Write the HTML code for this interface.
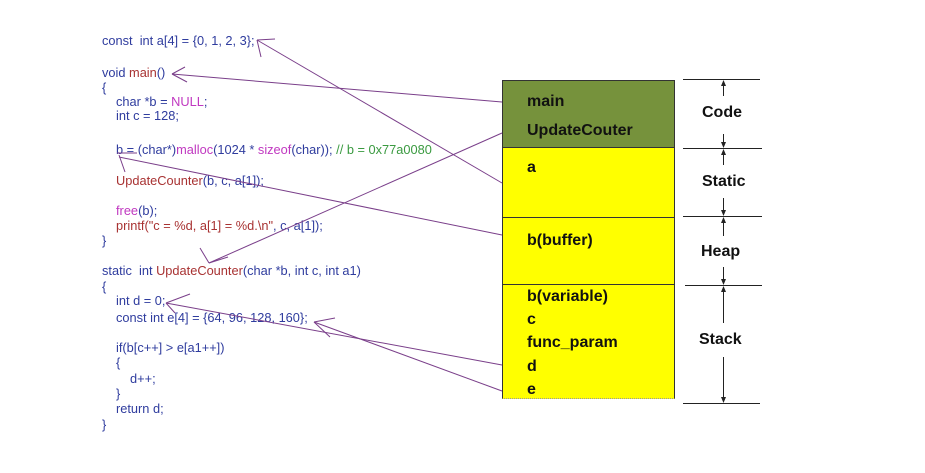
<!DOCTYPE html>
<html>
<head>
<meta charset="utf-8">
<style>
  html,body{margin:0;padding:0;background:#fff;}
  #c{position:relative;width:925px;height:473px;overflow:hidden;background:#fff;}
  .code{position:absolute;font-family:"Liberation Sans",Arial,sans-serif;font-size:12.8px;line-height:14px;white-space:pre;color:#2f3c9e;}
  .r{color:#a83232;}
  .m{color:#c038c0;}
  .g{color:#3a9a40;}
  .lbl{position:absolute;font-family:"Liberation Sans",Arial,sans-serif;font-weight:bold;font-size:16px;line-height:18px;color:#111;white-space:pre;}
  .box{position:absolute;left:502px;width:173px;box-sizing:border-box;border-left:1px solid #333;border-right:1px solid #333;}
</style>
</head>
<body>
<div id="c">
  <div class="box" style="top:80px;height:68px;background:#76923c;border-top:1px solid #333;border-bottom:1px solid #333;"></div>
  <div class="box" style="top:148px;height:70px;background:#ffff00;border-bottom:1px solid #333;"></div>
  <div class="box" style="top:218px;height:67px;background:#ffff00;border-bottom:1px solid #333;"></div>
  <div class="box" style="top:285px;height:114px;background:#ffff00;border-bottom:1px dotted #999;"></div>

  <div class="lbl" style="left:527px;top:93px;">main</div>
  <div class="lbl" style="left:527px;top:122px;">UpdateCouter</div>
  <div class="lbl" style="left:527px;top:159px;">a</div>
  <div class="lbl" style="left:527px;top:232px;">b(buffer)</div>
  <div class="lbl" style="left:527px;top:288px;">b(variable)</div>
  <div class="lbl" style="left:527px;top:311px;">c</div>
  <div class="lbl" style="left:527px;top:334px;">func_param</div>
  <div class="lbl" style="left:527px;top:358px;">d</div>
  <div class="lbl" style="left:527px;top:381px;">e</div>

  <div class="lbl" style="left:702px;top:104px;">Code</div>
  <div class="lbl" style="left:702px;top:173px;">Static</div>
  <div class="lbl" style="left:701px;top:243px;">Heap</div>
  <div class="lbl" style="left:699px;top:331px;">Stack</div>

  <div class="code" style="left:102px;top:34px;">const  int a[4] = {0, 1, 2, 3};</div>
  <div class="code" style="left:102px;top:66px;">void <span class="r">main</span>()</div>
  <div class="code" style="left:102px;top:81px;">{</div>
  <div class="code" style="left:116px;top:95px;">char *b = <span class="m">NULL</span>;</div>
  <div class="code" style="left:116px;top:109px;">int c = 128;</div>
  <div class="code" style="left:116px;top:143px;">b = (char*)<span class="m">malloc</span>(1024 * <span class="m">sizeof</span>(char)); <span class="g">// b = 0x77a0080</span></div>
  <div class="code" style="left:116px;top:174px;"><span class="r">UpdateCounter</span>(b, c, a[1]);</div>
  <div class="code" style="left:116px;top:204px;"><span class="m">free</span>(b);</div>
  <div class="code" style="left:116px;top:219px;"><span class="r">printf("c = %d, a[1] = %d.\n"</span>, c, a[1]);</div>
  <div class="code" style="left:102px;top:234px;">}</div>
  <div class="code" style="left:102px;top:264px;">static  int <span class="r">UpdateCounter</span>(char *b, int c, int a1)</div>
  <div class="code" style="left:102px;top:280px;">{</div>
  <div class="code" style="left:116px;top:294px;">int d = 0;</div>
  <div class="code" style="left:116px;top:311px;">const int e[4] = {64, 96, 128, 160};</div>
  <div class="code" style="left:116px;top:341px;">if(b[c++] &gt; e[a1++])</div>
  <div class="code" style="left:116px;top:356px;">{</div>
  <div class="code" style="left:130px;top:372px;">d++;</div>
  <div class="code" style="left:116px;top:387px;">}</div>
  <div class="code" style="left:116px;top:402px;">return d;</div>
  <div class="code" style="left:102px;top:418px;">}</div>

  <svg width="925" height="473" style="position:absolute;left:0;top:0;" xmlns="http://www.w3.org/2000/svg">
    <g stroke="#7a3f8a" stroke-width="1" fill="none">
      <line x1="502" y1="183" x2="257" y2="40"/>
      <line x1="257" y1="40" x2="275" y2="39"/>
      <line x1="257" y1="40" x2="261" y2="57"/>
      <line x1="502" y1="102" x2="172" y2="74"/>
      <line x1="172" y1="74" x2="185" y2="67"/>
      <line x1="172" y1="74" x2="187" y2="82"/>
      <line x1="502" y1="235" x2="119" y2="157"/>
      <line x1="117" y1="153" x2="137" y2="153"/>
      <line x1="119" y1="155" x2="125" y2="172"/>
      <line x1="502" y1="133" x2="209" y2="263"/>
      <line x1="209" y1="263" x2="200" y2="248"/>
      <line x1="209" y1="263" x2="228" y2="257"/>
      <line x1="502" y1="365" x2="166" y2="303"/>
      <line x1="166" y1="303" x2="190" y2="294"/>
      <line x1="166" y1="303" x2="175" y2="313"/>
      <line x1="502" y1="391" x2="314" y2="322"/>
      <line x1="314" y1="322" x2="335" y2="318"/>
      <line x1="314" y1="322" x2="330" y2="337"/>
    </g>
    <g stroke="#222" stroke-width="1" fill="none">
      <line x1="683" y1="79.5" x2="760" y2="79.5"/>
      <line x1="683" y1="148.5" x2="762" y2="148.5"/>
      <line x1="683" y1="216.5" x2="762" y2="216.5"/>
      <line x1="685" y1="285.5" x2="762" y2="285.5"/>
      <line x1="683" y1="403.5" x2="760" y2="403.5"/>
      <line x1="723.5" y1="83" x2="723.5" y2="96"/>
      <line x1="723.5" y1="134" x2="723.5" y2="146"/>
      <line x1="723.5" y1="152" x2="723.5" y2="165"/>
      <line x1="723.5" y1="198" x2="723.5" y2="213"/>
      <line x1="723.5" y1="220" x2="723.5" y2="236"/>
      <line x1="723.5" y1="267" x2="723.5" y2="282"/>
      <line x1="723.5" y1="289" x2="723.5" y2="323"/>
      <line x1="723.5" y1="357" x2="723.5" y2="400"/>
    </g>
    <g fill="#222">
      <polygon points="723.5,80 721,86 726,86"/>
      <polygon points="723.5,148 721,142 726,142"/>
      <polygon points="723.5,149 721,155 726,155"/>
      <polygon points="723.5,216 721,210 726,210"/>
      <polygon points="723.5,217 721,223 726,223"/>
      <polygon points="723.5,285 721,279 726,279"/>
      <polygon points="723.5,286 721,292 726,292"/>
      <polygon points="723.5,403 721,397 726,397"/>
    </g>
  </svg>
</div>
</body>
</html>
